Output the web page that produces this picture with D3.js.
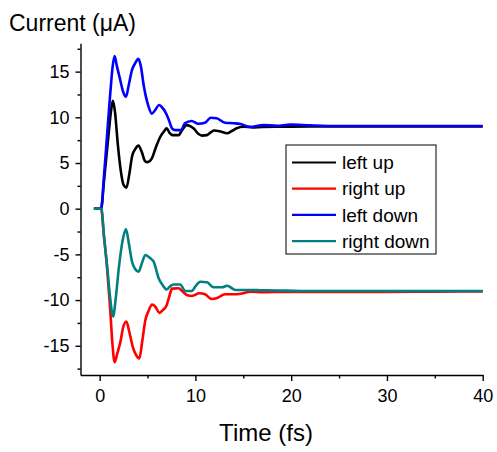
<!DOCTYPE html>
<html>
<head>
<meta charset="utf-8">
<script src="https://cdn.jsdelivr.net/npm/d3@7"></script>
<style>
  body { margin: 0; background: #fff; }
  svg { display: block; font-family: "Liberation Sans", Arial, sans-serif; }
  .axis path, .axis line { stroke: #000; stroke-width: 1.4; }
  .axis text { font-size: 18px; fill: #000; }
  .label { font-size: 23px; fill: #000; }
  .legend text { font-size: 19px; fill: #000; }
</style>
</head>
<body>
<svg width="497" height="452"></svg>
<script>
// series names + colours (legend order)
const seriesNames = ['left up', 'right up', 'left down', 'right down'];
const seriesColors = ['#000000', '#ff0000', '#0000ff', '#008080'];

// [time (fs), current (uA)]
const leftUp = [
  [-0.6, 0], [0.15, 0], [0.45, 3], [0.9, 7.8], [1.2, 10.8], [1.38, 11.8], [1.6, 10.6], [1.9, 7],
  [2.2, 4.2], [2.5, 2.6], [2.8, 2.3], [3.1, 3.8], [3.4, 5.8], [3.7, 6.5], [4.05, 6.9], [4.4, 6.2],
  [4.75, 5.2], [5.0, 5.1], [5.45, 5.5], [5.9, 6.8], [6.35, 7.9], [6.75, 8.5], [7.0, 8.8], [7.3, 8.3],
  [7.6, 8.05], [8.25, 8.05], [8.6, 8.6], [9.1, 9.15], [9.5, 9.0], [9.85, 8.75], [10.3, 8.2], [10.7, 8.0],
  [11.2, 8.05], [11.6, 8.35], [11.95, 8.55], [12.6, 8.45], [13.3, 8.25], [13.8, 8.5], [14.3, 8.8],
  [15.0, 8.97], [16.0, 8.9], [17.0, 8.95], [19, 8.97], [22, 9.0], [26, 9.0], [30, 9.0], [35, 9.0], [40, 9.0]
];
const rightUp = [
  [-0.6, 0], [0.15, 0], [0.45, -3], [0.77, -6.4], [1.1, -11], [1.35, -15], [1.56, -16.8], [1.85, -15.8],
  [2.16, -14.6], [2.45, -13], [2.79, -12.35], [3.1, -13.5], [3.45, -15.1], [3.8, -16], [4.14, -16.4],
  [4.45, -14.5], [4.77, -12.2], [5.1, -11.2], [5.47, -10.5], [5.8, -10.7], [6.25, -11.4], [6.6, -11.1],
  [6.96, -10.65], [7.3, -9.5], [7.55, -8.75], [8.25, -8.7], [8.6, -9.0], [9.1, -9.44], [9.64, -9.55],
  [10.4, -9.26], [11.0, -9.37], [11.7, -9.88], [12.2, -9.8], [13.1, -9.37], [14.3, -9.37], [15.0, -9.26],
  [15.7, -9.08], [17.1, -9.15], [19.2, -9.1], [22, -9.12], [26, -9.1], [30, -9.1], [35, -9.08], [40, -9.05]
];
const leftDown = [
  [-0.6, 0], [0.15, 0], [0.45, 3.5], [0.77, 8], [1.1, 12.5], [1.35, 15.5], [1.56, 16.7], [1.8, 15.6],
  [2.1, 14.3], [2.45, 12.8], [2.75, 12.25], [3.05, 13.6], [3.38, 15.2], [3.7, 15.9], [4.05, 16.4],
  [4.3, 15.6], [4.6, 13.5], [4.8, 12.4], [5.1, 11.2], [5.45, 10.4], [5.8, 10.8], [6.2, 11.35], [6.5, 11.1],
  [6.85, 10.6], [7.2, 9.8], [7.55, 8.8], [7.9, 8.6], [8.5, 8.6], [8.9, 9.35], [9.6, 9.6], [10.3, 9.3],
  [11.0, 9.4], [11.6, 9.95], [12.2, 9.9], [13.1, 9.4], [14.0, 9.35], [14.7, 9.27], [15.7, 8.95],
  [17.1, 9.15], [18.5, 9.08], [19.9, 9.2], [22, 9.12], [25, 9.05], [30, 9.05], [35, 9.05], [40, 9.05]
];
const rightDown = [
  [-0.6, 0], [0.18, 0], [0.45, -3], [0.8, -6.5], [1.1, -9.8], [1.4, -11.8], [1.7, -9.6], [2.0, -6.5],
  [2.2, -4.8], [2.45, -3.2], [2.75, -2.26], [3.05, -3.8], [3.38, -5.8], [3.7, -6.6], [4.07, -6.9],
  [4.4, -6.0], [4.77, -5.07], [5.29, -5.43], [5.64, -5.8], [6.16, -7.6], [6.6, -8.4], [7.0, -8.85],
  [7.35, -8.5], [7.72, -8.3], [8.4, -8.3], [8.94, -9.0], [9.64, -9.0], [10.0, -8.5], [10.5, -8.0],
  [11.2, -8.05], [11.9, -8.6], [12.8, -8.6], [13.3, -8.43], [14.2, -8.9], [15.4, -8.9], [16.8, -8.92],
  [18.5, -8.95], [21, -9.0], [25, -9.0], [30, -9.0], [35, -9.0], [40, -9.0]
];

const xMajor = [0, 10, 20, 30, 40];
const xMinor = [5, 15, 25, 35];
const yMajor = [-15, -10, -5, 0, 5, 10, 15];
const yMinor = [-17.5, -12.5, -7.5, -2.5, 2.5, 7.5, 12.5, 17.5];

const allSeries = [leftUp, rightUp, leftDown, rightDown];

const svg = d3.select('svg');

const plotLeft = 80.5;
const plotRight = 482.7;
const plotTop = 43.3;
const plotBottom = 375;

const xScale = d3.scaleLinear()
  .domain([-2, 40])
  .range([plotLeft, plotRight]);

const yScale = d3.scaleLinear()
  .domain([-18.2, 18.1])
  .range([plotBottom, plotTop]);

// minor ticks first, no labels
svg.append('g')
  .attr('class', 'axis')
  .attr('transform', `translate(0, ${plotBottom})`)
  .call(d3.axisBottom(xScale).tickValues(xMinor).tickSize(3.5).tickFormat(''))
  .call((g) => g.select('.domain').remove());

svg.append('g')
  .attr('class', 'axis')
  .attr('transform', `translate(${plotLeft}, 0)`)
  .call(d3.axisLeft(yScale).tickValues(yMinor).tickSize(3).tickFormat(''))
  .call((g) => g.select('.domain').remove());

svg.append('g')
  .attr('class', 'axis')
  .attr('transform', `translate(0, ${plotBottom})`)
  .call(d3.axisBottom(xScale).tickValues(xMajor).tickSize(6).tickSizeOuter(0).tickPadding(8));

svg.append('g')
  .attr('class', 'axis')
  .attr('transform', `translate(${plotLeft}, 0)`)
  .call(d3.axisLeft(yScale).tickValues(yMajor).tickSize(5).tickSizeOuter(0).tickPadding(6)
    .tickFormat((d) => String(d)));

const line = d3.line()
  .x((d) => xScale(d[0]))
  .y((d) => yScale(d[1]))
  .curve(d3.curveMonotoneX);

svg.append('g')
  .selectAll('path')
  .data(allSeries)
  .enter()
  .append('path')
  .attr('d', line)
  .attr('fill', 'none')
  .attr('stroke', (d, i) => seriesColors[i])
  .attr('stroke-width', 2.6)
  .attr('stroke-linejoin', 'round');

// legend
const legend = svg.append('g')
  .attr('class', 'legend')
  .attr('transform', 'translate(286, 145)');

legend.append('rect')
  .attr('width', 150)
  .attr('height', 109)
  .attr('fill', '#fff')
  .attr('stroke', '#000')
  .attr('stroke-width', 1);

const items = legend.selectAll('.item')
  .data(seriesNames)
  .enter()
  .append('g')
  .attr('class', 'item')
  .attr('transform', (d, i) => `translate(0, ${17.5 + i * 26.2})`);

items.append('line')
  .attr('x1', 6)
  .attr('x2', 50)
  .attr('stroke', (d, i) => seriesColors[i])
  .attr('stroke-width', 2.2);

items.append('text')
  .attr('x', 56)
  .attr('dy', '0.35em')
  .text((d) => d);

svg.append('text')
  .attr('class', 'label')
  .attr('x', 9)
  .attr('y', 31)
  .text('Current (\u03bcA)');

svg.append('text')
  .attr('class', 'label')
  .attr('x', 266)
  .attr('y', 441)
  .attr('text-anchor', 'middle')
  .style('font-size', '24px')
  .text('Time (fs)');
</script>
</body>
</html>
